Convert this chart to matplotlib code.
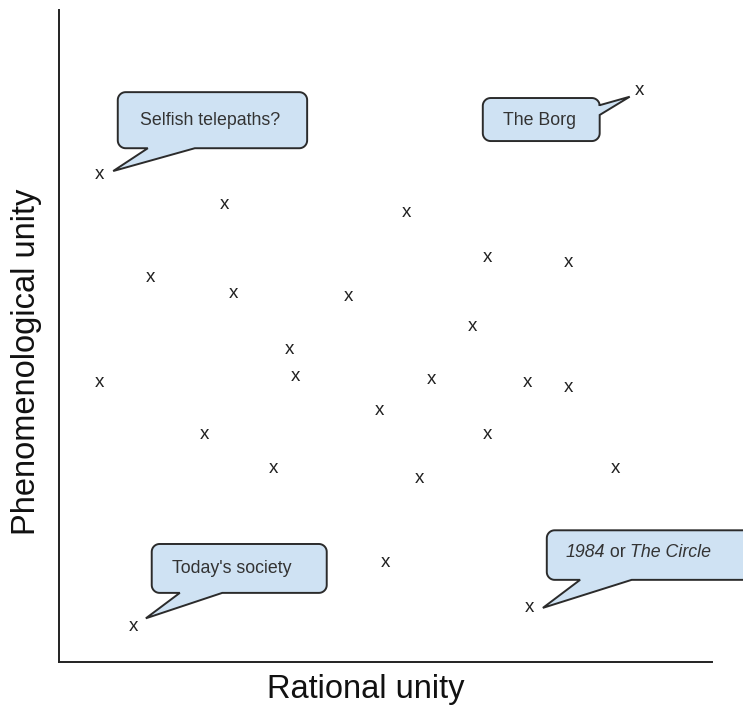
import numpy as np
import matplotlib
matplotlib.use("Agg")
from matplotlib import pyplot as plt
from matplotlib.patches import Polygon
from matplotlib.transforms import offset_copy

plt.rcParams['font.family'] = ['Liberation Sans', 'DejaVu Sans']

# points on a 0-100 scale (rational unity, phenomenological unity)
rational = [6.1, 88.8, 11.3, 72.0, 25.3, 53.1, 13.9, 26.6, 44.3, 65.5,
            77.9, 63.2, 35.2, 6.1, 36.1, 57.0, 71.7, 77.9, 49.0, 22.2,
            65.5, 32.8, 55.1, 85.1, 49.9]
phenomenal = [75.0, 87.9, 5.7, 8.6, 70.4, 69.2, 59.2, 56.7, 56.3, 62.3,
              61.5, 51.7, 48.2, 43.1, 44.0, 43.6, 43.1, 42.3, 38.8, 35.1,
              35.1, 29.9, 28.4, 29.9, 15.5]

callout_labels = ["Selfish telepaths?", "The Borg", "Today's society"]
# last callout is mixed: (piece, italic?)
circle_label = [("1984", True), (" or ", False), ("The Circle", True)]

FILL = '#cfe2f3'
EDGE = '#2b2b2b'
TXT = '#333333'


def arc(cx, cy, r, a0, a1):
    t = np.radians(np.linspace(a0, a1, 12))
    return list(zip(cx + r * np.cos(t), cy + r * np.sin(t)))


def callout(ax, box, side, base, tip, r=1.2):
    x0, y0, x1, y1 = box
    pts = [(x0 + r, y0)]
    if side == 'bottom':
        pts += [(base[0], y0), tip, (base[1], y0)]
    pts += arc(x1 - r, y0 + r, r, -90, 0)
    if side == 'right':
        pts += [(x1, base[0]), tip, (x1, base[1])]
    pts += arc(x1 - r, y1 - r, r, 0, 90)
    pts += arc(x0 + r, y1 - r, r, 90, 180)
    pts += arc(x0 + r, y0 + r, r, 180, 270)
    ax.add_patch(Polygon(pts, closed=True, facecolor=FILL, edgecolor=EDGE,
                         linewidth=1.4, clip_on=False, zorder=2))


fig = plt.figure(figsize=(7.43, 7.09), dpi=100)
ax = fig.add_axes([59 / 743, 47 / 709, 653 / 743, 652 / 709])
ax.set_xlim(0, 100)
ax.set_ylim(0, 100)
for s in ['top', 'right']:
    ax.spines[s].set_visible(False)
for s in ['left', 'bottom']:
    ax.spines[s].set_color('#222222')
    ax.spines[s].set_linewidth(1.4)
ax.set_xticks([])
ax.set_yticks([])

mark_tr = offset_copy(ax.transData, fig=fig, x=0.5, y=-1.5, units='dots')
for x, y in zip(rational, phenomenal):
    ax.text(x, y, 'x', ha='center', va='center', fontsize=13.5,
            color='#222222', zorder=3, transform=mark_tr)

callout(ax, (9.0, 78.8, 38.0, 87.4), 'bottom', (13.6, 20.8), (8.3, 75.3))
ax.text(23.2, 83.1, callout_labels[0], ha='center', va='center',
        fontsize=12.8, color=TXT, zorder=3)

callout(ax, (64.9, 79.9, 82.8, 86.5), 'right', (83.9, 85.4), (87.4, 86.7))
ax.text(73.6, 83.0, callout_labels[1], ha='center', va='center',
        fontsize=12.8, color=TXT, zorder=3)

callout(ax, (14.2, 10.6, 41.0, 18.1), 'bottom', (18.5, 25.0), (13.3, 6.7))
ax.text(26.4, 14.3, callout_labels[2], ha='center', va='center',
        fontsize=12.8, color=TXT, zorder=3)

callout(ax, (74.7, 12.6, 110.0, 20.2), 'bottom', (79.8, 87.7), (74.1, 8.3))
prev = None
for piece, italic in circle_label:
    style = 'italic' if italic else 'normal'
    if prev is None:
        prev = ax.text(77.5, 16.1, piece, ha='left', va='baseline',
                       fontsize=12.8, color=TXT, style=style, zorder=3)
    else:
        prev = ax.annotate(piece, xy=(1, 0), xycoords=prev, ha='left',
                           va='bottom', fontsize=12.8, color=TXT,
                           style=style, zorder=3)

ax.set_xlabel('Rational unity', fontsize=23.5, color='#111111')
ax.xaxis.set_label_coords(0.470, -0.018)
ax.set_ylabel('Phenomenological unity', fontsize=23.5, color='#111111')
ax.yaxis.set_label_coords(-0.026, 0.460)

fig.savefig('out.png', dpi=100)
